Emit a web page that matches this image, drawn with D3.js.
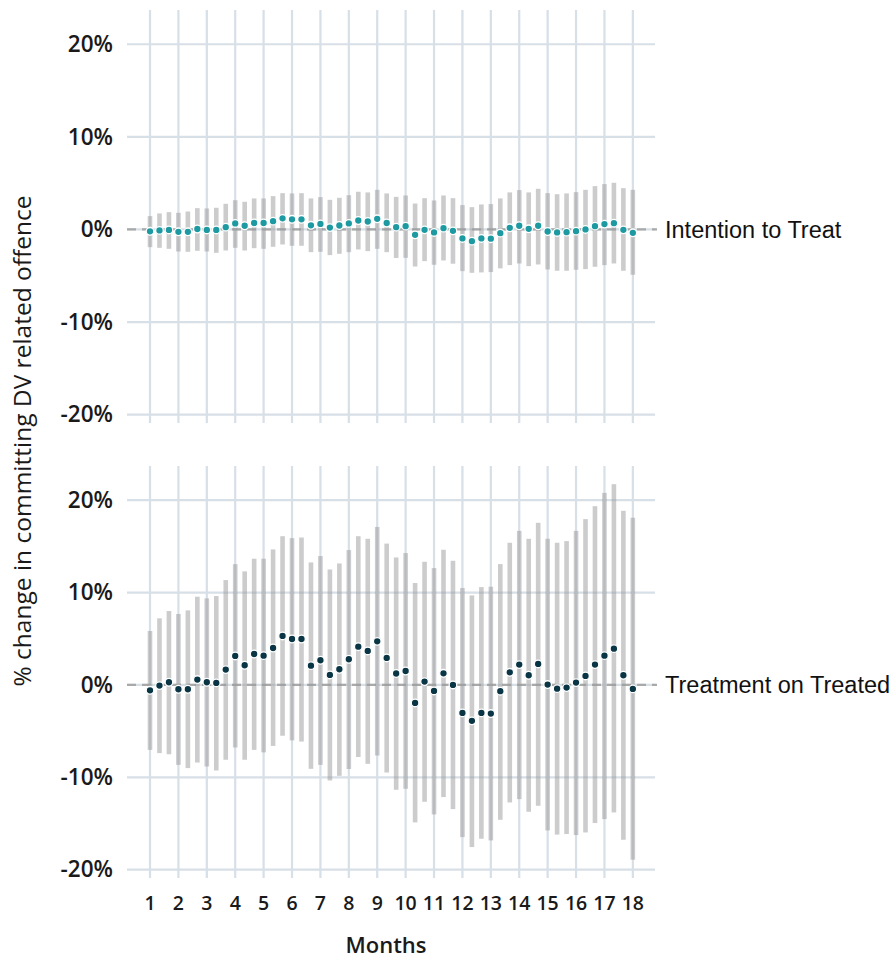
<!DOCTYPE html>
<html><head><meta charset="utf-8">
<script src="https://cdn.jsdelivr.net/npm/d3@7"></script>
<style>body{margin:0;background:#fff}svg{display:block}</style>
</head><body>
<script>
// ---- data ----
const monthTicks = [1,2,3,4,5,6,7,8,9,10,11,12,13,14,15,16,17,18];
const yTicks = [-20,-10,0,10,20];
const panelLabels = ["Intention to Treat","Treatment on Treated"];
// estimates at every third of a month (month 1 .. month 18)
const ittEst = [-0.2,-0.1,-0.05,-0.25,-0.25,0.05,-0.05,-0.05,0.25,0.65,0.4,0.7,0.7,0.9,1.2,1.1,1.1,0.45,0.6,0.2,0.43,0.65,0.97,0.86,1.15,0.7,0.25,0.36,-0.58,-0.04,-0.32,0.14,-0.15,-0.97,-1.26,-0.97,-1.0,-0.4,0.18,0.4,0.07,0.4,-0.22,-0.32,-0.29,-0.18,0,0.36,0.58,0.68,-0.04,-0.36];
const ittHi = [1.44,1.73,1.87,1.8,1.94,2.3,2.27,2.34,2.77,3.16,2.99,3.35,3.35,3.6,3.92,3.89,3.92,3.35,3.49,3.2,3.42,3.7,4.07,4.0,4.28,3.89,3.52,3.67,2.8,3.38,3.13,3.67,3.38,2.63,2.41,2.7,2.74,3.35,4.0,4.25,4.0,4.39,3.92,3.81,3.89,4.03,4.28,4.68,4.9,5.04,4.46,4.28];
const ittLo = [-1.91,-1.98,-2.09,-2.38,-2.41,-2.3,-2.38,-2.52,-2.27,-1.98,-2.27,-2.02,-2.09,-1.87,-1.62,-1.76,-1.76,-2.45,-2.41,-2.77,-2.63,-2.45,-2.16,-2.34,-2.09,-2.45,-3.08,-3.06,-4.0,-3.42,-3.81,-3.35,-3.7,-4.5,-4.68,-4.64,-4.6,-4.2,-3.85,-3.67,-3.96,-3.78,-4.32,-4.46,-4.46,-4.35,-4.28,-4.03,-3.85,-3.67,-4.46,-4.89];
const totEst = [-0.58,-0.07,0.29,-0.47,-0.47,0.58,0.29,0.22,1.66,3.14,2.13,3.35,3.17,4.0,5.3,4.97,4.97,2.09,2.67,1.08,1.7,2.78,4.14,3.68,4.72,2.92,1.24,1.51,-1.95,0.36,-0.65,1.26,0,-3.03,-3.89,-3.03,-3.1,-0.68,1.37,2.2,1.05,2.27,0.04,-0.4,-0.29,0.25,0.97,2.2,3.17,3.93,1.05,-0.43];
const totHi = [5.84,7.21,8.0,7.68,8.07,9.55,9.37,9.62,11.35,13.08,12.29,13.66,13.66,14.67,16.1,15.89,15.96,13.26,13.95,12.5,13.15,14.6,16.1,15.82,17.1,15.3,13.8,14.27,11.03,13.33,12.65,14.63,13.44,10.49,9.69,10.59,10.63,13.08,15.39,16.68,15.82,17.55,15.82,15.39,15.57,16.68,17.95,19.35,20.79,21.73,18.85,18.1];
const totLo = [-7.03,-7.38,-7.5,-8.65,-9.0,-8.4,-8.83,-9.26,-8.1,-6.77,-8.1,-7.03,-7.3,-6.6,-5.5,-6.0,-6.13,-9.08,-8.65,-10.34,-9.84,-9.1,-7.8,-8.54,-7.64,-9.48,-11.35,-11.24,-14.88,-12.65,-14.02,-12.14,-13.44,-16.47,-17.55,-16.65,-16.83,-14.6,-12.72,-12.36,-13.73,-13.08,-15.75,-16.2,-16.14,-16.25,-15.97,-14.95,-14.52,-13.8,-16.76,-18.92];
const steps = ittEst.map((_, i) => 1 + i / 3);

// ---- layout ----
const W = 891, H = 960;
const svg = d3.select("body").append("svg").attr("width", W).attr("height", H);
const x = d3.scaleLinear().domain([0.19, 18.78]).range([127, 655]);
const panels = [
  {est: ittEst, lo: ittLo, hi: ittHi, color: "#1d9aa1", label: panelLabels[0], top: 10, bottom: 423},
  {est: totEst, lo: totLo, hi: totHi, color: "#093545", label: panelLabels[1], top: 466, bottom: 878}
];
const gridColor = "#d7dfe7";
const tickFont = "'Open Sans', sans-serif";

panels.forEach(p => {
  const y = d3.scaleLinear().domain([-20.9, 23.7]).range([p.bottom, p.top]);
  const g = svg.append("g");
  // grid
  g.selectAll(".hg").data(yTicks).join("line")
    .attr("x1", x.range()[0]).attr("x2", x.range()[1])
    .attr("y1", d => y(d)).attr("y2", d => y(d))
    .attr("stroke", gridColor).attr("stroke-width", 2.2);
  g.selectAll(".vg").data(monthTicks).join("line")
    .attr("x1", d => x(d)).attr("x2", d => x(d))
    .attr("y1", p.top).attr("y2", p.bottom)
    .attr("stroke", gridColor).attr("stroke-width", 2.2);
  // y axis labels
  const ax = d3.axisLeft(y).tickValues(yTicks).tickSize(0).tickPadding(0)
    .tickFormat(d => d + "%");
  const axg = g.append("g").attr("transform", `translate(${x.range()[0] - 14},0)`).call(ax);
  axg.select(".domain").remove();
  axg.selectAll("text").attr("font-family", tickFont).attr("font-weight", 600)
    .attr("font-size", 22.5).attr("fill", "#1a1a1a");
  // zero dashed line
  g.append("line").attr("x1", x.range()[0]).attr("x2", x.range()[1] + 2)
    .attr("y1", y(0)).attr("y2", y(0))
    .attr("stroke", "#a9a9a9").attr("stroke-width", 2.2).attr("stroke-dasharray", "9,6");
  // error bars
  g.selectAll(".bar").data(steps).join("rect")
    .attr("x", (d) => x(d) - 2.3).attr("width", 4.6)
    .attr("y", (d, i) => y(p.hi[i]))
    .attr("height", (d, i) => y(p.lo[i]) - y(p.hi[i]))
    .attr("fill", "#999").attr("fill-opacity", 0.5);
  // points
  g.selectAll(".pt").data(steps).join("circle")
    .attr("cx", d => x(d)).attr("cy", (d, i) => y(p.est[i]))
    .attr("r", 3.8).attr("fill", p.color).attr("stroke", "#fff").attr("stroke-width", 1.3);
  // right label
  g.append("text").attr("x", 665).attr("y", y(0)).attr("dy", "0.35em")
    .attr("font-family", "'Liberation Sans', Arial, sans-serif").attr("font-size", 23.5)
    .attr("fill", "#111").text(p.label);
});

// x axis labels
svg.append("g").selectAll("text").data(monthTicks).join("text")
  .attr("x", d => x(d)).attr("y", 903).attr("dy", "0.35em").attr("text-anchor", "middle")
  .attr("font-family", tickFont).attr("font-weight", 600).attr("font-size", 19.5)
  .attr("fill", "#1a1a1a").text(d => d);

svg.append("text").attr("x", 386).attr("y", 945).attr("dy", "0.35em").attr("text-anchor", "middle")
  .attr("font-family", tickFont).attr("font-weight", 600).attr("font-size", 22)
  .attr("fill", "#1a1a1a").text("Months");

svg.append("text").attr("transform", "translate(22,441) rotate(-90)")
  .attr("dy", "0.35em").attr("text-anchor", "middle")
  .attr("font-family", tickFont).attr("font-size", 24.5)
  .attr("fill", "#1a1a1a").text("% change in committing DV related offence");
</script>
</body></html>
